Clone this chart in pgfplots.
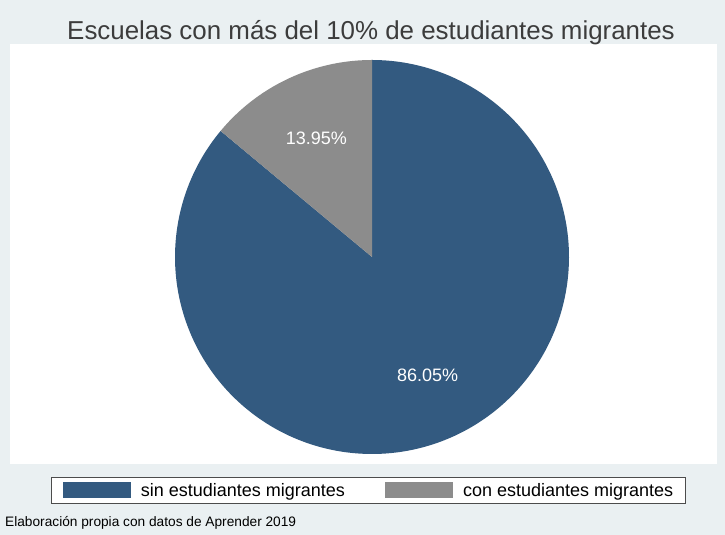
\documentclass[border=0pt]{standalone}
\usepackage{fontspec}
\setmainfont{Liberation Sans}
\usepackage{pgfplots}
\usepackage{pgfplotstable}
\pgfplotsset{compat=1.18}

\definecolor{bgc}{HTML}{EAF0F2}
\definecolor{pieblue}{HTML}{335A80}
\definecolor{piegray}{HTML}{8C8C8C}
\definecolor{titlegray}{HTML}{3C3C3C}

% share of schools (%)
\pgfplotstableread{
share
86.05
13.95
}\piedata

\begin{document}
\begin{tikzpicture}
\pgfplotstablegetelem{0}{share}\of\piedata \let\shareA\pgfplotsretval
\pgfplotstablegetelem{1}{share}\of\piedata \let\shareB\pgfplotsretval
\pgfmathsetmacro\angA{90-3.6*\shareA}
\pgfmathsetmacro\angB{\angA-3.6*\shareB}
\pgfmathsetmacro\midA{90-1.8*\shareA}
\pgfmathsetmacro\midB{\angA-1.8*\shareB}
\fill[bgc] (0,0) rectangle (725pt,535pt);
\fill[white] (10pt,71pt) rectangle (717pt,491pt);
\node[anchor=base, text=titlegray, font=\fontsize{25.9}{30}\selectfont] at (371pt,495pt)
  {Escuelas con más del 10\% de estudiantes migrantes};
\node[anchor=base west, inner sep=0pt, font=\fontsize{13.7}{16}\selectfont] at (5pt,8pt)
  {Elaboración propia con datos de Aprender 2019};
\begin{axis}[
    at={(10pt,71pt)}, anchor=south west,
    scale only axis, width=707pt, height=420pt,
    xmin=-1.8376, xmax=1.7513, ymin=-1.0508, ymax=1.0812,
    hide axis, clip=false,
    legend columns=2,
    legend cell align=left,
    legend image code/.code={\fill[#1] (0pt,-7.5pt) rectangle (68pt,8.5pt);},
    legend style={at={(0.5064,-0.0619)}, anchor=center,
        draw=black!70, line width=0.7pt, fill=white,
        font=\fontsize{18}{20}\selectfont,
        inner xsep=12pt, inner ysep=5pt,
        nodes={inner xsep=0pt, inner ysep=0pt},
        /tikz/column 1/.style={column sep=10pt},
        /tikz/column 2/.style={column sep=40pt},
        /tikz/column 3/.style={column sep=10pt}},
]
\addplot[draw=none, fill=pieblue, domain=\angA:90, samples=300, variable=\t]
  ({cos(\t)}, {sin(\t)}) -- (axis cs:0,0) -- cycle;
\addlegendentry{sin estudiantes migrantes}
\addplot[draw=none, fill=piegray, domain=\angB:\angA, samples=100, variable=\t]
  ({cos(\t)}, {sin(\t)}) -- (axis cs:0,0) -- cycle;
\addlegendentry{con estudiantes migrantes}
\node[text=white, font=\fontsize{18}{20}\selectfont] at (axis cs:{0.665*cos(\midA)},{0.665*sin(\midA)}) {\shareA\%};
\node[text=white, font=\fontsize{18}{20}\selectfont] at (axis cs:{0.665*cos(\midB)},{0.665*sin(\midB)}) {\shareB\%};
\end{axis}
\end{tikzpicture}
\end{document}
